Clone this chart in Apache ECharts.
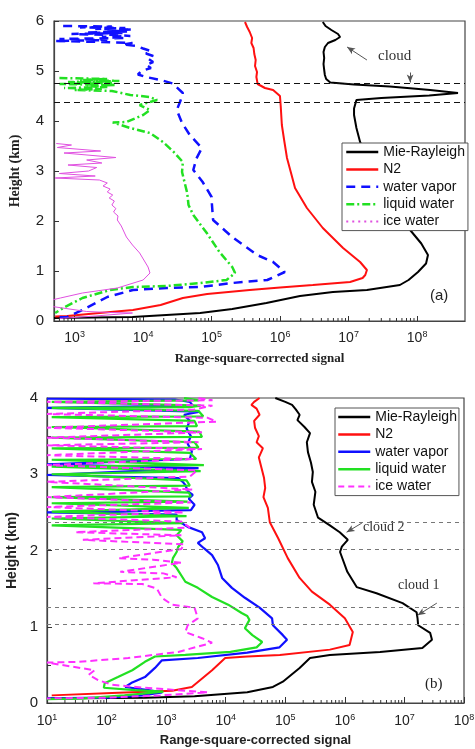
<!DOCTYPE html>
<html>
<head>
<meta charset="utf-8">
<script src="https://cdn.jsdelivr.net/npm/echarts@6/dist/echarts.min.js"></script>
<style>html,body{margin:0;padding:0;background:#fff}#c{width:475px;height:749px}</style>
</head>
<body>
<div id="c"></div>
<script>
// ---------- Panel (a) data: [signal, height km] ----------
const MR_A = [[4.2e6,5.98],[4.6e6,5.9],[5.6e6,5.82],[7.0e6,5.74],[7.5e6,5.68],[6.4e6,5.62],[5.0e6,5.56],[4.5e6,5.48],[4.3e6,5.38],[4.4e6,5.26],[4.3e6,5.14],[4.4e6,5.02],[4.5e6,4.92],[4.7e6,4.84],[5.4e6,4.77],[1.2e7,4.73],[4e7,4.69],[1.55e8,4.62],[3.95e8,4.56],[1.5e8,4.51],[3e7,4.46],[1.3e7,4.42],[1.24e7,4.38],[1.2e7,4.25],[1.2e7,4.12],[1.3e7,3.86],[1.47e7,3.58],[1.9e7,3.25],[2.8e7,2.8],[4.4e7,2.3],[7.9e7,1.82],[1.15e8,1.55],[1.44e8,1.32],[1.35e8,1.15],[1.03e8,0.98],[7.5e7,0.82],[5.6e7,0.72],[1.85e7,0.62],[5.9e6,0.58],[1.95e6,0.50],[6.3e5,0.36],[2e5,0.24],[6.8e4,0.16],[7e3,0.08],[500,0.06]];
const N2_A = [[3.07e5,5.98],[3.3e5,5.88],[3.6e5,5.78],[3.9e5,5.66],[3.8e5,5.56],[4.1e5,5.46],[4.2e5,5.34],[4.4e5,5.22],[4.3e5,5.1],[4.6e5,4.98],[4.5e5,4.88],[4.7e5,4.74],[6e5,4.66],[7.9e5,4.62],[9.95e5,4.50],[1.02e6,4.3],[1.06e6,3.92],[1.15e6,3.6],[1.26e6,3.26],[1.45e6,2.95],[1.65e6,2.66],[2.46e6,2.26],[4.2e6,1.86],[8.3e6,1.46],[1.47e7,1.18],[1.85e7,1.02],[1.75e7,0.92],[1.6e7,0.86],[1.05e7,0.78],[3.0e6,0.72],[1e6,0.67],[3.6e5,0.62],[8.6e4,0.54],[3.8e4,0.46],[1.8e4,0.32],[7.1e3,0.22],[2.3e3,0.16],[780,0.10],[520,0.09]];
const WV_A = [[680,5.90],[3500,5.89],[1200,5.87],[5500,5.86],[2000,5.84],[7000,5.83],[3000,5.81],[6000,5.79],[1500,5.77],[5000,5.76],[900,5.74],[4000,5.72],[6500,5.70],[2500,5.68],[5500,5.66],[600,5.64],[3000,5.62],[520,5.60],[2500,5.58],[7000,5.56],[5000,5.53],[8000,5.50],[1.0e4,5.45],[1.3e4,5.40],[1.1e4,5.35],[1.4e4,5.30],[1.2e4,5.24],[1.4e4,5.18],[1.1e4,5.12],[1.3e4,5.06],[9500,5.0],[8400,4.93],[1.1e4,4.88],[1.8e4,4.82],[2.7e4,4.75],[3.8e4,4.56],[3.5e4,4.4],[3.1e4,4.22],[3.7e4,3.96],[4.8e4,3.72],[7.2e4,3.46],[6e4,3.25],[5.4e4,3.02],[7.4e4,2.78],[1.0e5,2.48],[1.0e5,2.42],[1.05e5,2.02],[2.0e5,1.68],[4.6e5,1.32],[7.9e5,1.18],[1.17e6,0.98],[6.5e5,0.82],[2.0e5,0.76],[6.8e4,0.68],[2.2e4,0.66],[7.1e3,0.62],[3.0e3,0.48],[1.3e3,0.22],[780,0.08],[520,0.07]];
const LW_A = [[600,4.86],[3000,4.84],[1200,4.82],[4500,4.80],[800,4.78],[3500,4.76],[600,4.74],[4000,4.72],[1500,4.70],[3000,4.68],[700,4.66],[2500,4.64],[1000,4.62],[3500,4.60],[4500,4.57],[6500,4.52],[1.26e4,4.48],[1.6e4,4.42],[8.9e3,4.32],[1.26e4,4.22],[1e4,4.12],[5.7e3,3.98],[3.6e3,3.97],[6.5e3,3.86],[1.26e4,3.76],[1.95e4,3.58],[2.8e4,3.38],[3.8e4,3.18],[3.7e4,2.98],[4.4e4,2.56],[4.6e4,2.32],[5.4e4,2.12],[8.5e4,1.76],[1.3e5,1.38],[2.0e5,1.08],[2.2e5,0.96],[1.65e5,0.82],[6.8e4,0.76],[2.2e4,0.70],[7.1e3,0.68],[3.3e3,0.62],[1.3e3,0.46],[680,0.26],[520,0.16]];
const IW_A = [[540,3.55],[900,3.52],[560,3.47],[2400,3.40],[700,3.36],[4000,3.27],[1500,3.22],[2500,3.16],[800,3.12],[2100,3.07],[1600,3.0],[600,2.95],[2000,2.9],[520,2.86],[2300,2.82],[3000,2.76],[2600,2.70],[3300,2.64],[3000,2.58],[3600,2.52],[3200,2.46],[3800,2.40],[3500,2.32],[4000,2.25],[3700,2.18],[4300,2.10],[4200,2.02],[4800,1.9],[5700,1.68],[7000,1.52],[8900,1.36],[1.18e4,1.08],[1.26e4,0.96],[1e4,0.82],[4200,0.66],[1300,0.56],[620,0.46],[400,0.40],[420,0.3],[1500,0.19],[3300,0.17],[7000,0.16],[2000,0.1],[600,0.05]];
const CLOUD_A = [4.75, 4.38];

// ---------- Panel (b) data ----------
const MR_B = [[6.8e4,4.0],[1.0e5,3.95],[1.3e5,3.91],[1.5e5,3.85],[1.74e5,3.78],[1.6e5,3.71],[2.1e5,3.62],[2.6e5,3.54],[2.3e5,3.42],[2.4e5,3.29],[2.7e5,3.15],[2.9e5,3.03],[2.8e5,2.9],[3.2e5,2.77],[3.0e5,2.6],[3.55e5,2.43],[5.6e5,2.33],[8.2e5,2.24],[1.12e6,2.14],[8.9e5,2.05],[8.3e5,1.98],[1.1e6,1.72],[1.58e6,1.52],[3.4e6,1.44],[9.3e6,1.31],[1.6e7,1.19],[1.66e7,1.11],[1.7e7,1.02],[2.7e7,0.92],[2.9e7,0.83],[2.0e7,0.72],[3.9e6,0.67],[5.6e5,0.63],[2.6e5,0.59],[1.74e5,0.46],[9.1e4,0.28],[6.2e4,0.21],[2.3e4,0.14],[3000,0.09],[440,0.07],[10,0.06]];
const N2_B = [[3.7e4,4.0],[3.0e4,3.95],[2.7e4,3.91],[3.3e4,3.86],[3.7e4,3.78],[3.0e4,3.70],[3.1e4,3.61],[3.6e4,3.50],[3.3e4,3.42],[4.2e4,3.34],[3.6e4,3.22],[4.0e4,3.08],[4.4e4,2.95],[4.6e4,2.82],[4.3e4,2.70],[5.1e4,2.56],[5.5e4,2.37],[7.6e4,2.16],[1.1e5,1.90],[1.74e5,1.64],[2.8e5,1.46],[5.6e5,1.29],[1.0e6,1.11],[1.36e6,0.93],[1.2e6,0.76],[5.6e5,0.70],[8.1e4,0.63],[2.3e4,0.61],[9.8e3,0.59],[5.9e3,0.43],[2.7e3,0.21],[1.26e3,0.16],[123,0.13],[12,0.10]];
const WV_B = [[10,3.99],[1400,3.98],[2500,3.95],[2800,3.90],[10,3.87],[10,3.85],[3700,3.82],[2000,3.78],[2500,3.70],[2200,3.60],[2600,3.50],[2300,3.40],[2700,3.30],[2500,3.20],[10,3.13],[10,3.11],[3500,3.08],[10,2.99],[10,2.97],[1600,2.95],[1900,2.90],[2100,2.86],[2300,2.78],[2800,2.73],[2400,2.68],[3000,2.60],[2600,2.53],[10,2.50],[10,2.48],[1500,2.47],[1500,2.40],[2300,2.31],[4000,2.24],[4500,2.16],[3400,2.10],[4300,2.03],[5900,1.94],[7400,1.81],[8700,1.64],[1.27e4,1.51],[2.1e4,1.38],[3.7e4,1.25],[6e4,1.11],[6.2e4,1.02],[9.1e4,0.89],[1.07e5,0.83],[8e4,0.73],[2.3e4,0.66],[3400,0.59],[850,0.56],[650,0.46],[440,0.34],[270,0.27],[205,0.21],[500,0.17],[860,0.14],[400,0.10],[100,0.07],[10,0.06]];
const LW_B = [[2000,4.0],[3500,3.97],[12,3.95],[12,3.93],[3800,3.90],[2500,3.88],[12,3.87],[12,3.85],[3500,3.83],[4200,3.76],[12,3.75],[12,3.73],[3000,3.70],[3300,3.63],[12,3.62],[12,3.60],[3600,3.56],[4000,3.49],[12,3.48],[12,3.46],[3000,3.42],[3500,3.35],[12,3.34],[12,3.32],[2500,3.28],[3200,3.20],[12,3.19],[12,3.17],[4300,3.12],[12,3.10],[12,3.08],[3800,3.04],[12,3.00],[12,2.98],[2200,2.92],[2500,2.85],[12,2.83],[12,2.81],[2400,2.76],[2600,2.71],[12,2.70],[12,2.68],[2300,2.64],[12,2.62],[12,2.60],[2400,2.56],[12,2.51],[12,2.49],[2200,2.45],[12,2.42],[12,2.40],[1900,2.36],[12,2.33],[12,2.31],[1800,2.27],[1500,2.20],[1900,2.12],[1600,2.05],[1500,1.98],[1300,1.90],[1250,1.84],[1500,1.77],[2100,1.59],[3400,1.51],[5900,1.39],[1.1e4,1.29],[1.85e4,1.18],[2.3e4,1.14],[2.5e4,1.09],[2.1e4,0.98],[2.8e4,0.89],[4.1e4,0.80],[3.3e4,0.73],[1.2e4,0.67],[2100,0.63],[650,0.61],[440,0.54],[270,0.43],[155,0.34],[93,0.26],[90,0.20],[300,0.17],[900,0.15],[200,0.10],[40,0.06],[10,0.05]];
const IW_B = [[3500,4.0],[6000,3.97],[10,3.95],[10,3.94],[6000,3.90],[3000,3.85],[10,3.79],[10,3.77],[5000,3.74],[7000,3.69],[10,3.61],[10,3.60],[4000,3.55],[10,3.48],[10,3.47],[3500,3.42],[10,3.38],[10,3.37],[4000,3.33],[10,3.25],[10,3.24],[3000,3.20],[10,3.12],[10,3.11],[3300,3.05],[2500,2.97],[10,2.90],[10,2.89],[2800,2.80],[10,2.70],[10,2.69],[2600,2.63],[10,2.57],[10,2.56],[2000,2.50],[10,2.44],[10,2.43],[1800,2.38],[2500,2.30],[30,2.24],[30,2.23],[1800,2.20],[40,2.14],[40,2.13],[2000,2.08],[1800,2.02],[160,1.90],[600,1.88],[1800,1.84],[170,1.72],[900,1.70],[1500,1.65],[60,1.57],[400,1.56],[700,1.50],[850,1.38],[1250,1.29],[3000,1.25],[3400,1.11],[2300,1.02],[2100,0.93],[4000,0.85],[5900,0.79],[1600,0.67],[230,0.59],[33,0.54],[10,0.53],[63,0.43],[50,0.37],[72,0.30],[123,0.24],[440,0.20],[5000,0.14],[800,0.10],[100,0.07],[10,0.06]];
const CLOUD_B = [2.37, 2.02, 1.25, 1.03];

// axis settings
const X_RANGE_A = [500, 5e8];
const X_RANGE_B = [10, 1e8];
const Y_RANGE_A = [0, 6];
const Y_RANGE_B = [0, 4];
const MINOR_MANTISSAS = [2,3,4,5,6,7,8,9];
const DECADES = [1,2,3,4,5,6,7,8];

const SANS = 'Liberation Sans, Arial, sans-serif';
const SERIF = 'Liberation Serif, Times New Roman, serif';
const C = {mr:'#000000', n2:'#ff1010', wv:'#1010ff', lw:'#22e022', iwA:'#e050e0', iwB:'#ff30ff'};

function minorTicks(range){
  const out = [];
  DECADES.forEach(d => MINOR_MANTISSAS.forEach(m => {
    const v = m * Math.pow(10, d - 1);
    if (v > range[0] && v < range[1]) out.push([v, 0]);
  }));
  return out;
}
function minorSeries(xi, range){
  return {type:'custom', xAxisIndex:xi, yAxisIndex:xi, silent:true, z:10,
    data: minorTicks(range),
    renderItem: (params, api) => {
      const p = api.coord([api.value(0), 0]);
      return {type:'line', shape:{x1:p[0], y1:p[1], x2:p[0], y2:p[1]-3}, style:{stroke:'#333', lineWidth:1}};
    }};
}
const pow10Label = v => '{b|10}{s|' + Math.round(Math.log10(v)) + '}';
const xLabel = {formatter: pow10Label, color:'#222', rich:{b:{fontSize:14, fontFamily:SANS, color:'#222'}, s:{fontSize:9, fontFamily:SANS, color:'#222', padding:[0,0,8,0]}}};

function line(name, data, idx, color, width, type, z){
  return {name, type:'line', data, xAxisIndex:idx, yAxisIndex:idx, symbol:'none', smooth:false,
    lineStyle:{color, width, type: type || 'solid'}, itemStyle:{color}, z: z || 2, clip:true};
}
function dashLines(vals, color, dash){
  return vals.map(v => ({yAxis:v, lineStyle:{color, width:1.2, type:dash}}));
}
function arrow(from, to){
  return [{coord:from, symbol:'none', lineStyle:{color:'#555', width:1, type:'solid'}},
          {coord:to, symbol:'arrow', symbolSize:[5,8], lineStyle:{color:'#555', width:1, type:'solid'}}];
}

const mrA = line('Mie-Rayleigh', MR_A, 0, C.mr, 2);
mrA.markLine = {silent:true, animation:false, symbol:['none','none'], label:{show:false},
  data: dashLines(CLOUD_A, '#111', [6,4]).concat([arrow([1.85e7,5.22],[9.5e6,5.48]), arrow([7.9e7,4.97],[7.9e7,4.77])])};
const mrB = line('Mie-Rayleigh', MR_B, 1, C.mr, 2);
mrB.markLine = {silent:true, animation:false, symbol:['none','none'], label:{show:false},
  data: dashLines(CLOUD_B, '#777', [4,4]).concat([arrow([1.93e6,2.36],[1.07e6,2.24]), arrow([3.5e7,1.31],[1.66e7,1.15])])};

function legendItems(styles){
  return styles.map(s => ({name:s[0],
    itemStyle:{color:'rgba(0,0,0,0)', borderColor:'rgba(0,0,0,0)', borderWidth:0, opacity:0},
    lineStyle:{color:s[1], width:s[2], type:s[3], opacity:1}}));
}
const legendBase = {orient:'vertical', itemWidth:32, itemHeight:14, itemGap:3.4, borderColor:'#555', borderWidth:1,
  backgroundColor:'#fff', selectedMode:false, borderRadius:0, textStyle:{fontFamily:SANS, fontSize:14, color:'#111'}};

const option = {
  animation:false,
  backgroundColor:'#fff',
  textStyle:{fontFamily:SANS},
  grid:[
    {left:54, top:21, width:411, height:300, show:true, borderColor:'#444', borderWidth:1.2, containLabel:false, outerBoundsMode:'none'},
    {left:47, top:398, width:417, height:305, show:true, borderColor:'#444', borderWidth:1.2, containLabel:false, outerBoundsMode:'none'}
  ],
  xAxis:[
    {type:'log', gridIndex:0, min:X_RANGE_A[0], max:X_RANGE_A[1], logBase:10,
      axisLine:{show:true, lineStyle:{color:'#444', width:1.2}}, axisTick:{inside:true, length:5, lineStyle:{color:'#333'}},
      axisLabel:Object.assign({margin:9, showMinLabel:false, showMaxLabel:false}, xLabel), splitLine:{show:false},
      name:'Range-square-corrected signal', nameLocation:'middle', nameGap:31,
      nameTextStyle:{fontFamily:SERIF, fontWeight:'bold', fontSize:13, color:'#222'}},
    {type:'log', gridIndex:1, min:X_RANGE_B[0], max:X_RANGE_B[1], logBase:10,
      axisLine:{show:true, lineStyle:{color:'#444', width:1.2}}, axisTick:{inside:true, length:6, lineStyle:{color:'#333'}},
      axisLabel:Object.assign({margin:10}, xLabel), splitLine:{show:false},
      name:'Range-square-corrected signal', nameLocation:'middle', nameGap:31,
      nameTextStyle:{fontFamily:SANS, fontWeight:'bold', fontSize:13, color:'#222'}}
  ],
  yAxis:[
    {type:'value', gridIndex:0, min:Y_RANGE_A[0], max:Y_RANGE_A[1], interval:1,
      axisLine:{show:true, lineStyle:{color:'#444', width:1.2}}, axisTick:{show:true, inside:true, length:5, lineStyle:{color:'#333'}},
      axisLabel:{margin:10, fontSize:15, color:'#222', fontFamily:SANS}, splitLine:{show:false},
      name:'Height (km)', nameLocation:'middle', nameGap:32, nameRotate:90,
      nameTextStyle:{fontFamily:SERIF, fontWeight:'bold', fontSize:14, color:'#222'}},
    {type:'value', gridIndex:1, min:Y_RANGE_B[0], max:Y_RANGE_B[1], interval:1,
      axisLine:{show:true, lineStyle:{color:'#444', width:1.2}}, axisTick:{show:true, inside:true, length:5, lineStyle:{color:'#333'}},
      minorTick:{show:true, splitNumber:2, length:4, lineStyle:{color:'#333'}},
      axisLabel:{margin:9, fontSize:15, color:'#222', fontFamily:SANS}, splitLine:{show:false},
      name:'Height (km)', nameLocation:'middle', nameGap:28, nameRotate:90,
      nameTextStyle:{fontFamily:SANS, fontWeight:'bold', fontSize:14, color:'#222'}}
  ],
  legend:[
    Object.assign({left:342, top:143, padding:[2,3,2,3], data: legendItems([
      ['Mie-Rayleigh', C.mr, 2.5, 'solid'], ['N2', C.n2, 2.5, 'solid'], ['water vapor', C.wv, 2.5, [9,6]],
      ['liquid water', C.lw, 2.5, [8,3,2,3]], ['ice water', C.iwA, 2, [2,4]]])}, legendBase),
    Object.assign({left:335, top:408, padding:[2,2,2,2], data: legendItems([
      ['Mie-Rayleigh', C.mr, 2.5, 'solid'], ['N2', C.n2, 2.5, 'solid'], ['water vapor', C.wv, 2.5, 'solid'],
      ['liquid water', C.lw, 2.5, 'solid'], ['ice water', C.iwB, 2, [6,4]]])}, legendBase)
  ],
  graphic:[
    {type:'text', left:378, top:49, style:{text:'cloud', font:'15px ' + SERIF, fill:'#333'}},
    {type:'text', left:363, top:520, style:{text:'cloud 2', font:'14px ' + SERIF, fill:'#333'}},
    {type:'text', left:398, top:578, style:{text:'cloud 1', font:'14px ' + SERIF, fill:'#333'}},
    {type:'text', left:430, top:288, style:{text:'(a)', font:'15px ' + SANS, fill:'#222'}},
    {type:'text', left:425, top:677, style:{text:'(b)', font:'15px ' + SERIF, fill:'#222'}}
  ],
  series:[
    mrA,
    line('N2', N2_A, 0, C.n2, 2),
    line('water vapor', WV_A, 0, C.wv, 2.5, [9,6]),
    line('liquid water', LW_A, 0, C.lw, 2.5, [8,3,2,3]),
    line('ice water', IW_A, 0, C.iwA, 1),
    mrB,
    line('N2', N2_B, 1, C.n2, 2),
    line('water vapor', WV_B, 1, C.wv, 2.2),
    line('liquid water', LW_B, 1, C.lw, 2.2),
    line('ice water', IW_B, 1, C.iwB, 2, [7,4]),
    minorSeries(0, X_RANGE_A),
    minorSeries(1, X_RANGE_B)
  ]
};
const chart = echarts.init(document.getElementById('c'), null, {renderer:'canvas'});
chart.setOption(option);
</script>
</body>
</html>
